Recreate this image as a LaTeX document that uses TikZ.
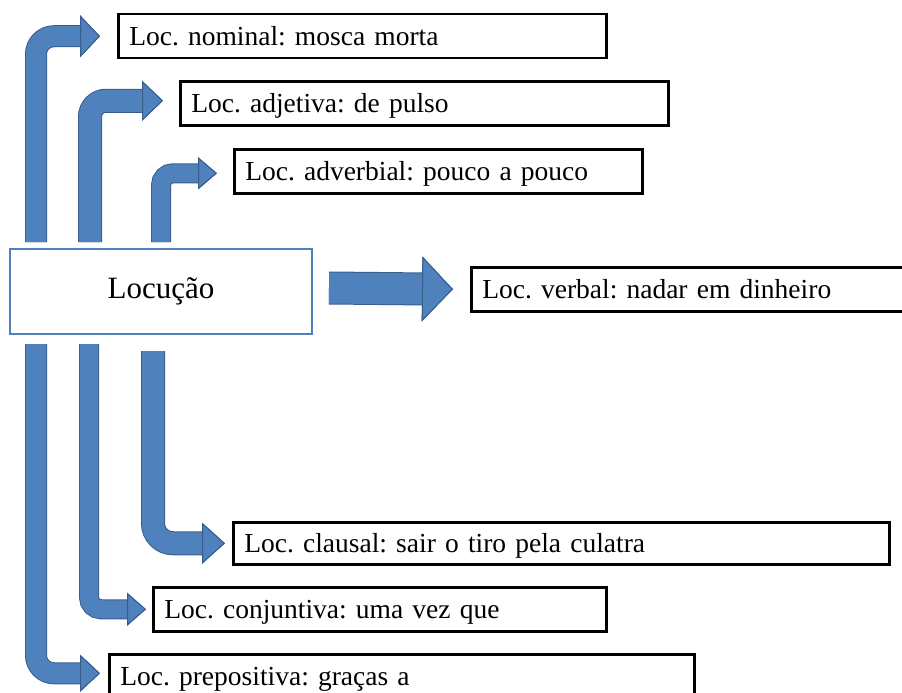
\documentclass[tikz,border=0pt]{standalone}
\usepackage{fontspec}
\setmainfont{Liberation Serif}
\usetikzlibrary{arrows.meta,positioning}
\definecolor{locblue}{RGB}{79,129,189}
\definecolor{locedge}{RGB}{56,93,138}
\frenchspacing

\begin{document}
\begin{tikzpicture}[
    x=1pt,y=-1pt,
    entry/.style={draw,line width=2.5pt,anchor=north west,align=left,
        inner xsep=11pt,inner ysep=0pt,minimum height=44pt,
        text height=18pt,text depth=0pt,
        font=\fontsize{27.5}{32}\selectfont},
    root/.style={draw=locblue,line width=2pt,minimum width=302pt,
        minimum height=85pt,font=\fontsize{31}{36}\selectfont},
    fatarrow/.style n args={4}{locblue,line width=#1,rounded corners=#4,
        -{Triangle[length=#2,width=#3,line width=1pt,color=locedge,fill=locblue]},
        preaction={draw=locedge,line width=#1+2pt}}
]
\useasboundingbox (0,0) rectangle (902,693);
\node[root] (locucao) at (161,291.5) {Locução};
\node[entry,text width=466pt] (nominal) at (117,13) {Loc. nominal: mosca morta};
\node[entry,text width=466pt] (adjetiva) at (179,80) {Loc. adjetiva: de pulso};
\node[entry,text width=386pt] (adverbial) at (233,148) {Loc. adverbial: pouco a pouco};
\node[entry,text width=418pt] (verbal) at (470,266) {Loc. verbal: nadar em dinheiro};
\node[entry,text width=634pt,minimum height=42pt] (clausal) at (232,521) {Loc. clausal: sair o tiro pela culatra};
\node[entry,text width=431pt] (conjuntiva) at (152,586) {Loc. conjuntiva: uma vez que};
\node[entry,text width=563pt] (prepositiva) at (108,653) {Loc. prepositiva: graças a};
% upward
\draw[fatarrow={20pt}{20pt}{42pt}{18pt}] ([xshift=27pt,yshift=6pt]locucao.north west) |- ([xshift=-17pt]nominal.west);
\draw[fatarrow={22pt}{21pt}{40pt}{16pt}] ([xshift=81pt,yshift=6pt]locucao.north west) |- ([xshift=-16pt,yshift=2.5pt]adjetiva.west);
\draw[fatarrow={18pt}{19pt}{32pt}{12pt}] ([yshift=6pt]locucao.north) |- ([xshift=-16pt,yshift=-2pt]adverbial.west);
% straight
\draw[fatarrow={31pt}{31pt}{65pt}{0pt}] ([xshift=16pt,yshift=3.5pt]locucao.east) -- ([xshift=-17pt]verbal.west);
% downward
\draw[fatarrow={22pt}{23pt}{41pt}{20pt}] ([xshift=144pt,yshift=-16pt]locucao.south west) |- ([xshift=-7pt]clausal.west);
\draw[fatarrow={18pt}{19pt}{33pt}{12pt}] ([xshift=80pt,yshift=-9pt]locucao.south west) |- ([xshift=-6pt]conjuntiva.west);
\draw[fatarrow={20pt}{20pt}{37pt}{18pt}] ([xshift=27pt,yshift=-9pt]locucao.south west) |- ([xshift=-8pt,yshift=3pt]prepositiva.west);
\end{tikzpicture}
\end{document}
